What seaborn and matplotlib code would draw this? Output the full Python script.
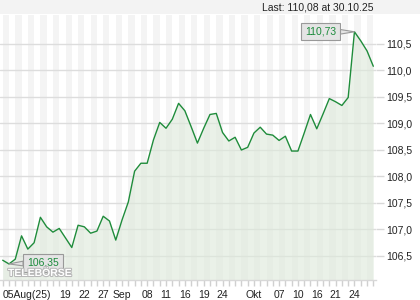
import numpy as np
import pandas as pd
import matplotlib
matplotlib.use('Agg')
import matplotlib.pyplot as plt
import seaborn as sns
from matplotlib.patches import Rectangle
from matplotlib.ticker import MultipleLocator, FixedLocator
import matplotlib.patheffects as pe

# ---- data ----
values = [106.42, 106.35, 106.44, 106.88, 106.63, 106.75, 107.23, 107.05, 106.95, 107.02,
          106.84, 106.66, 107.08, 107.05, 106.93, 106.97, 107.25, 107.16, 106.80, 107.18,
          107.52, 108.10, 108.25, 108.25, 108.69, 109.02, 108.91, 109.08, 109.38, 109.24,
          108.94, 108.63, 108.91, 109.17, 109.19, 108.83, 108.67, 108.74, 108.50, 108.55,
          108.82, 108.93, 108.80, 108.78, 108.68, 108.76, 108.48, 108.48, 108.82, 109.17,
          108.90, 109.18, 109.47, 109.41, 109.34, 109.49, 110.73, 110.56, 110.37, 110.08]
x_tick_labels = ["05Aug(25)", "19", "22", "27", "Sep", "08", "11", "16", "19", "24",
                 "Okt", "07", "10", "16", "21", "24"]
x_tick_idx = [0, 10, 13, 16, 19, 23, 26, 29, 32, 35, 40, 44, 47, 50, 53, 56]
y_ticks = [106.5, 107.0, 107.5, 108.0, 108.5, 109.0, 109.5, 110.0, 110.5]
last_date = "30.10.25"

df = pd.DataFrame({"idx": np.arange(len(values)), "value": values})

sns.set_theme(style="white")
plt.rcParams['font.family'] = ['Liberation Sans', 'DejaVu Sans']

fig = plt.figure(figsize=(4.2, 3.0), dpi=100)
fig.patch.set_facecolor('white')
fig.patches.append(Rectangle((0, 1 - 14 / 300), 1, 14 / 300, transform=fig.transFigure,
                             facecolor='#f3f3f3', edgecolor='none', zorder=0))
ax = fig.add_axes([0, 20 / 300, 376 / 420, 265 / 300])
ax.set_facecolor('white')

ylo, yhi = 106.047, 111.047
n = len(values)
ax.set_xlim(-0.43, n - 1 + 0.43)
ax.set_ylim(ylo, yhi)

# alternating day stripes
for i in range(0, n - 1, 2):
    ax.axvspan(i, i + 1, color='#f4f4f4', lw=0, zorder=0)

# grid
for yt in y_ticks:
    ax.axhline(yt, color='#dddddd', lw=1, zorder=1)

ax.fill_between(df["idx"], df["value"], ylo, color='#dde9da', alpha=0.6, lw=0, zorder=2)
sns.lineplot(data=df, x="idx", y="value", ax=ax, color='#1f8c3b', lw=1.0, zorder=3)

# axes styling
for s in ['top', 'left', 'right']:
    ax.spines[s].set_visible(False)
ax.spines['bottom'].set_color('#d8d8d8')
ax.spines['bottom'].set_linewidth(1)
ax.set_xlabel('')
ax.set_ylabel('')

ax.xaxis.set_major_locator(FixedLocator(x_tick_idx))
ax.set_xticklabels(x_tick_labels)
ax.xaxis.set_minor_locator(MultipleLocator(1))
ax.tick_params(axis='x', which='both', bottom=True, length=4, color='#d0d0d0', width=1,
               direction='out', pad=3, labelsize=7.5, labelcolor='#222222')
for lbl in ax.get_xticklabels():
    if lbl.get_text() == x_tick_labels[0]:
        lbl.set_horizontalalignment('left')

ax.yaxis.tick_right()
ax.set_yticks(y_ticks)
ax.set_yticklabels([f"{v:.1f}".replace('.', ',') for v in y_ticks])
ax.tick_params(axis='y', which='major', right=True, left=False, length=6, color='#d8d8d8',
               width=1, pad=1.5, labelsize=7.5, labelcolor='#222222')

# annotations for max and min
imax = int(np.argmax(values))
imin = int(np.argmin(values))
box = dict(boxstyle='square,pad=0.35', fc='#e4e4e4', ec='#999999', lw=0.8)
ax.annotate(f"{values[imax]:.2f}".replace('.', ','), xy=(imax, values[imax]),
            xytext=(-34, 0), textcoords='offset pixels', ha='center', va='center',
            fontsize=7.5, color='#1a8a3a', bbox=box, zorder=6,
            arrowprops=dict(arrowstyle='wedge,tail_width=0.45,shrink_factor=0.5',
                            fc='#e4e4e4', ec='#999999', lw=0.8, shrinkA=0, shrinkB=0))
ax.annotate(f"{values[imin]:.2f}".replace('.', ','), xy=(imin, values[imin]),
            xytext=(34, 1), textcoords='offset pixels', ha='center', va='center',
            fontsize=7.5, color='#1a8a3a', bbox=box, zorder=6,
            arrowprops=dict(arrowstyle='wedge,tail_width=0.45,shrink_factor=0.5',
                            fc='#e4e4e4', ec='#999999', lw=0.8, shrinkA=0, shrinkB=0))

# watermark
fig.text(8 / 420, 1 - 273 / 300, "TELEBÖRSE", ha='left', va='center', fontsize=7.5,
         fontweight='bold', color='white', zorder=10,
         path_effects=[pe.withStroke(linewidth=1.5, foreground='#b8b8b8')])

fig.text(374 / 420, 1 - 8 / 300,
         f"Last: {values[-1]:.2f}".replace('.', ',') + f" at {last_date}",
         ha='right', va='center', fontsize=7.5, color='#222222')

fig.savefig('out.png', dpi=100)
